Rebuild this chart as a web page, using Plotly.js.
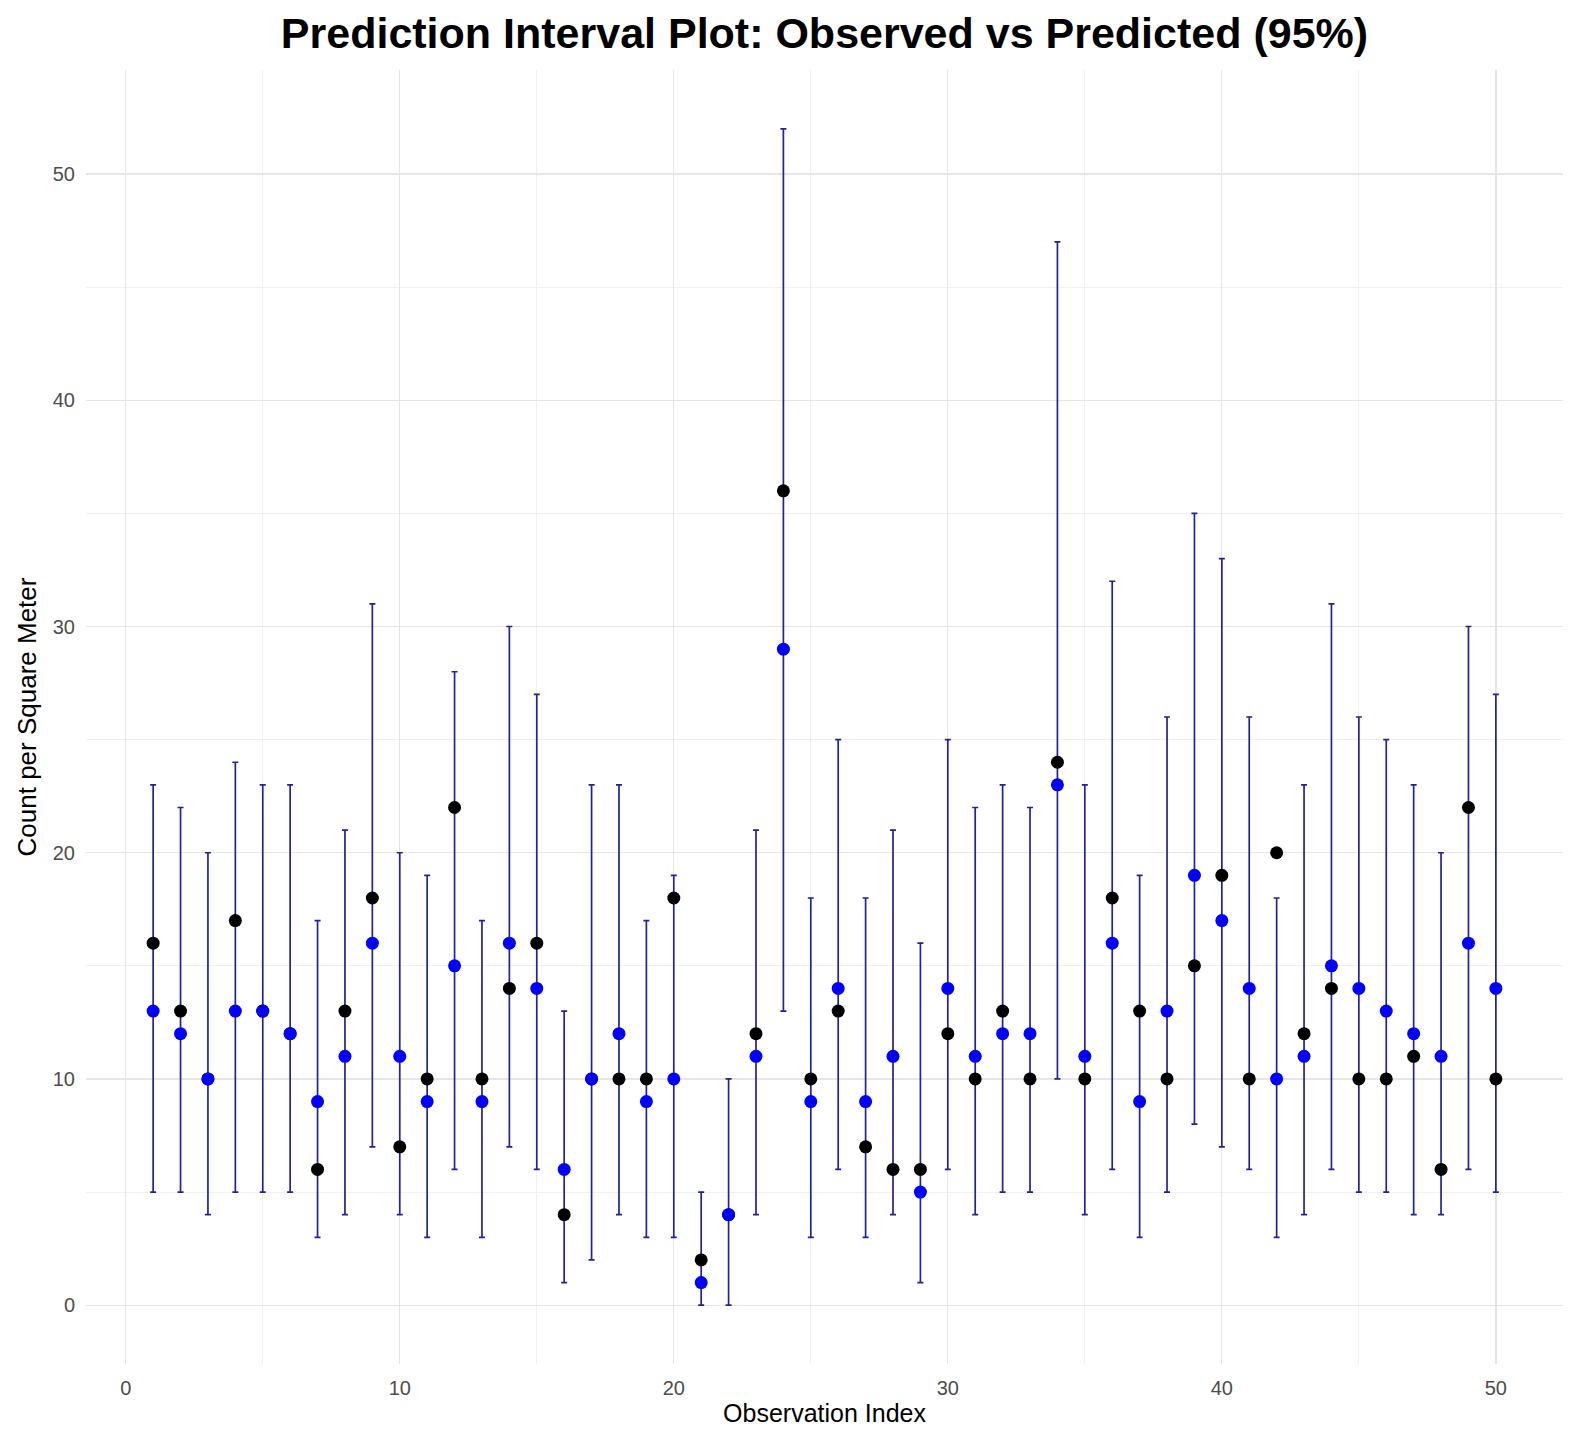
<!DOCTYPE html>
<html>
<head>
<meta charset="utf-8">
<script src="https://cdn.plot.ly/plotly-3.0.1.min.js"></script>
<style>html,body{margin:0;padding:0;background:#fff;}#chart{width:1586px;height:1455px;}</style>
</head>
<body>
<div id="chart"></div>
<script>
const obsIndex = [1,2,3,4,5,6,7,8,9,10,11,12,13,14,15,16,17,18,19,20,21,22,23,24,25,26,27,28,29,30,31,32,33,34,35,36,37,38,39,40,41,42,43,44,45,46,47,48,49,50];
const observed = [16,13,10,17,13,12,6,13,18,7,10,22,10,14,16,4,10,10,10,18,2,4,12,36,10,13,7,6,6,12,10,13,10,24,10,18,13,10,15,19,10,20,12,14,10,10,11,6,22,10];
const predicted = [13,12,10,13,13,12,9,11,16,11,9,15,9,16,14,6,10,12,9,10,1,4,11,29,9,14,9,11,5,14,11,12,12,23,11,16,9,13,19,17,14,10,11,15,14,13,12,11,16,14];
const lowerPI = [5,5,4,5,5,5,3,4,7,4,3,6,3,7,6,1,2,4,3,3,0,0,4,13,3,6,3,4,1,6,4,5,5,10,4,6,3,5,8,7,6,3,4,6,5,5,4,4,6,5];
const upperPI = [23,22,20,24,23,23,17,21,31,20,19,28,17,30,27,13,23,23,17,19,5,10,21,52,18,25,18,21,16,25,22,23,22,47,23,32,19,26,35,33,26,18,23,31,26,25,23,20,30,27];
const xTicks = [0,10,20,30,40,50];
const yTicks = [0,10,20,30,40,50];
const minorTicks = [5,15,25,35,45];

const errPlus = upperPI.map((u, i) => u - predicted[i]);
const errMinus = lowerPI.map((l, i) => predicted[i] - l);

const traces = [
  {
    x: obsIndex, y: predicted, type: 'scatter', mode: 'markers',
    marker: {size: 1, color: 'rgba(0,0,0,0)'},
    error_y: {type: 'data', symmetric: false, array: errPlus, arrayminus: errMinus,
      color: '#22229a', thickness: 1.7, width: 3},
    hoverinfo: 'skip', showlegend: false
  },
  {
    x: obsIndex, y: observed, type: 'scatter', mode: 'markers', name: 'Observed',
    marker: {size: 13, color: '#000000'}, showlegend: false
  },
  {
    x: obsIndex, y: predicted, type: 'scatter', mode: 'markers', name: 'Predicted',
    marker: {size: 13, color: '#0000ff'}, showlegend: false
  }
];

const layout = {
  width: 1586, height: 1455,
  paper_bgcolor: '#ffffff', plot_bgcolor: '#ffffff',
  margin: {l: 86, r: 23, t: 70, b: 91},
  font: {family: 'Liberation Sans, Arial, sans-serif'},
  title: {
    text: '<b>Prediction Interval Plot: Observed vs Predicted (95%)</b>',
    font: {size: 43, color: '#000000', family: 'Liberation Sans, Arial, sans-serif'},
    x: 0.5, xanchor: 'center', xref: 'paper', y: 1 - 33/1455, yanchor: 'middle', yref: 'container'
  },
  xaxis: {
    range: [-1.45, 52.45], tickvals: xTicks, ticks: '', ticklabelstandoff: 10,
    showgrid: true, gridcolor: '#e6e6e6', gridwidth: 1.3, zeroline: false, showline: false,
    minor: {tickvals: minorTicks, showgrid: true, gridcolor: '#f0f0f0', gridwidth: 1, ticks: ''},
    tickfont: {size: 20, color: '#4d4d4d'},
    title: {text: 'Observation Index', font: {size: 25, color: '#000000'}, standoff: 6}
  },
  yaxis: {
    range: [-2.6, 54.6], tickvals: yTicks, ticks: '', ticklabelstandoff: 10,
    showgrid: true, gridcolor: '#e6e6e6', gridwidth: 1.3, zeroline: false, showline: false,
    minor: {tickvals: minorTicks, showgrid: true, gridcolor: '#f0f0f0', gridwidth: 1, ticks: ''},
    tickfont: {size: 20, color: '#4d4d4d'},
    title: {text: 'Count per Square Meter', font: {size: 26, color: '#000000'}, standoff: 8}
  },
  showlegend: false
};

Plotly.newPlot('chart', traces, layout, {displayModeBar: false, staticPlot: true});
</script>
</body>
</html>
